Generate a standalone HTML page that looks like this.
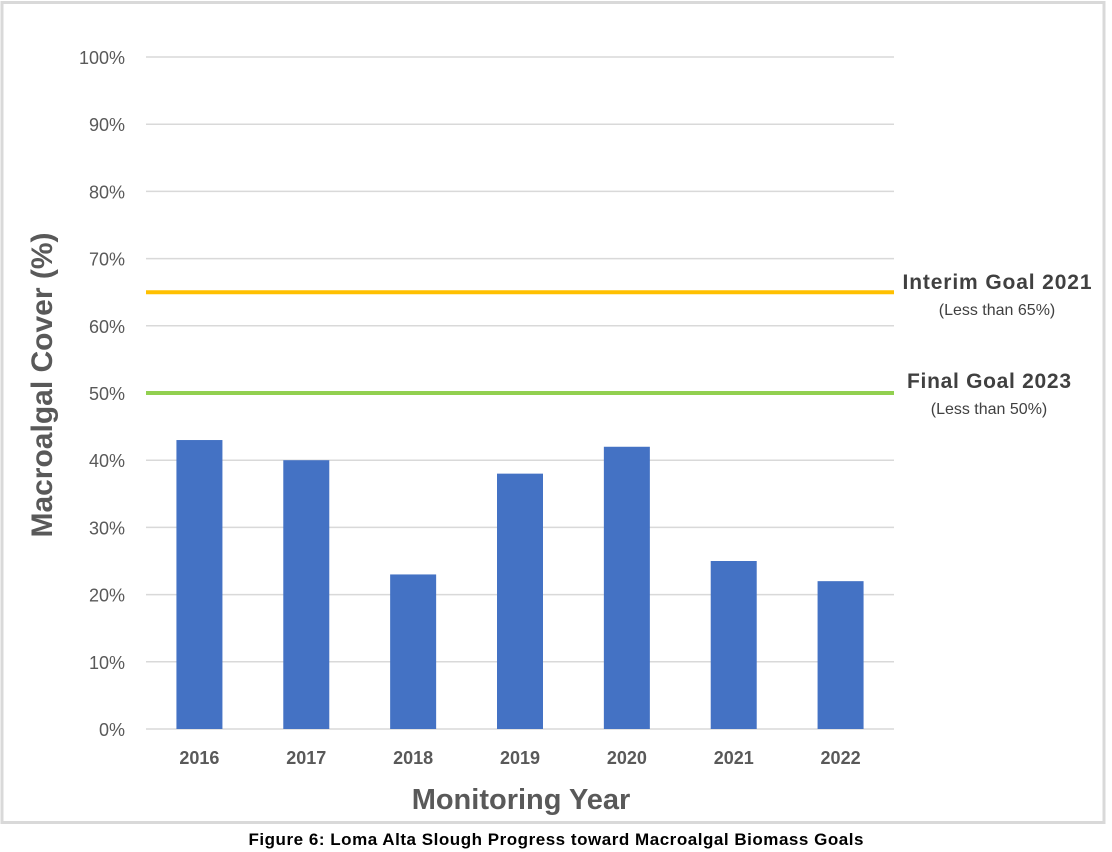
<!DOCTYPE html>
<html><head><meta charset="utf-8"><style>
body{margin:0;background:#fff;width:1112px;height:852px;overflow:hidden}
svg{display:block}
text{font-family:"Liberation Sans",sans-serif}
</style></head><body>
<svg id="chart" width="1112" height="852">
<rect x="2" y="2.5" width="1102" height="820" fill="#fff" stroke="#d9d9d9" stroke-width="3"/>
<g id="grid"></g><g id="bars"></g><g id="xl"></g>
<text x="52" y="385" transform="rotate(-90 52 385)" text-anchor="middle" font-size="30" font-weight="bold" fill="#595959">Macroalgal Cover (%)</text>
<text x="521" y="809" text-anchor="middle" font-size="29" font-weight="bold" fill="#595959">Monitoring Year</text>
<text x="997" y="289" text-anchor="middle" font-size="21" font-weight="bold" fill="#404040" textLength="189">Interim Goal 2021</text>
<text x="997" y="315" text-anchor="middle" font-size="16" fill="#404040">(Less than 65%)</text>
<text x="989" y="388" text-anchor="middle" font-size="21" font-weight="bold" fill="#404040" textLength="164">Final Goal 2023</text>
<text x="989" y="414" text-anchor="middle" font-size="16" fill="#404040">(Less than 50%)</text>
<text x="556" y="845" text-anchor="middle" font-size="17" font-weight="bold" fill="#000" textLength="615">Figure 6: Loma Alta Slough Progress toward Macroalgal Biomass Goals</text>
</svg>
<script>
const categories=["2016","2017","2018","2019","2020","2021","2022"];
const values=[43,40,23,38,42,25,22];
const yTicks=[0,10,20,30,40,50,60,70,80,90,100];
const goalValues=[65,50];
const goalColors=["#ffc000","#92d050"];
const NS="http://www.w3.org/2000/svg";
const x0=146,x1=894,yTop=57,yBot=729;
const y=v=>yBot-(v/100)*(yBot-yTop);
const band=(x1-x0)/categories.length;
const xc=i=>x0+band*(i+0.5);
function mk(t,a,p){const e=document.createElementNS(NS,t);for(const k in a)e.setAttribute(k,a[k]);p.appendChild(e);return e;}
const g=document.getElementById('grid');
yTicks.forEach(t=>{
 const l=mk('line',{x1:x0,x2:x1,y1:y(t),y2:y(t),stroke:'#d9d9d9','stroke-width':1.5},g);
 
 
 const tx=mk('text',{x:125,y:y(t)+7,'text-anchor':'end','font-size':18,fill:'#595959'},g);
 tx.textContent=t+'%';
 
 
});
goalValues.forEach((v,i)=>{
 const l=mk('line',{x1:x0,x2:x1,y1:y(v),y2:y(v),stroke:goalColors[i],'stroke-width':4},g);
 
 
});
const b=document.getElementById('bars'),xl=document.getElementById('xl');
const bw=46;
categories.forEach((c,i)=>{
 const r=mk('rect',{x:xc(i)-bw/2,y:y(values[i]),width:bw,height:yBot-y(values[i]),fill:'#4472c4'},b);
 
 
 const t=mk('text',{x:xc(i),y:764,'text-anchor':'middle','font-size':18,'font-weight':'bold',fill:'#595959'},xl);
 t.textContent=c;
 
 
});
</script>
</body></html>
